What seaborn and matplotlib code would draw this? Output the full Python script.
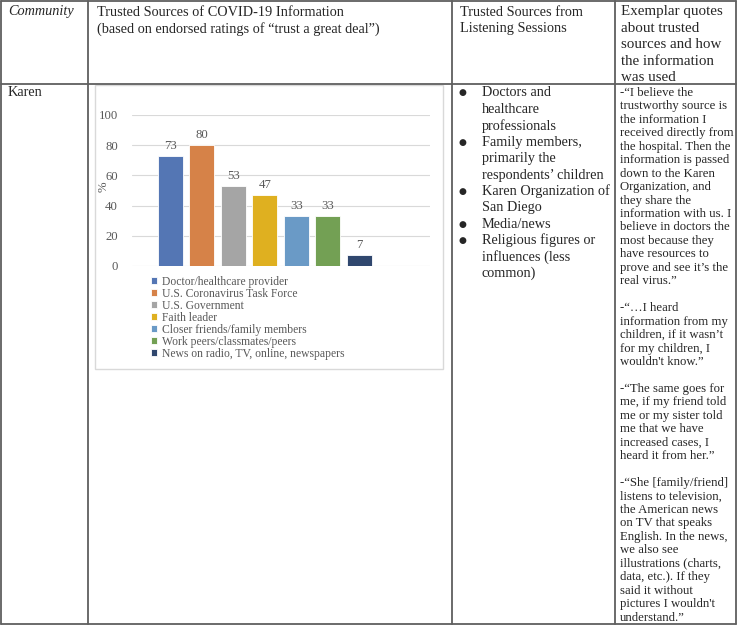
import matplotlib
matplotlib.use("Agg")
import matplotlib.pyplot as plt
import seaborn as sns
import pandas as pd

# ============ DATA ============
sources = ["Doctor/healthcare provider", "U.S. Coronavirus Task Force",
           "U.S. Government", "Faith leader", "Closer friends/family members",
           "Work peers/classmates/peers", "News on radio, TV, online, newspapers"]
percent = [73, 80, 53, 47, 33, 33, 7]
bar_colors = ["#4472C4", "#ED7D31", "#A5A5A5", "#FFC000", "#5B9BD5", "#70AD47", "#264478"]
y_ticks = [0, 20, 40, 60, 80, 100]

headers = {
    "col1": ["Community"],
    "col2": ["Trusted Sources of COVID-19 Information",
             "(based on endorsed ratings of \u201ctrust a great deal\u201d)"],
    "col3": ["Trusted Sources from", "Listening Sessions"],
    "col4": ["Exemplar quotes", "about trusted", "sources and how",
             "the information", "was used"],
}
community = "Karen"
bullets = [
    ["Doctors and", "healthcare", "professionals"],
    ["Family members,", "primarily the", "respondents\u2019 children"],
    ["Karen Organization of", "San Diego"],
    ["Media/news"],
    ["Religious figures or", "influences (less", "common)"],
]
quotes = [
    ["-\u201cI believe the", "trustworthy source is", "the information I",
     "received directly from", "the hospital. Then the", "information is passed",
     "down to the Karen", "Organization, and", "they share the",
     "information with us. I", "believe in doctors the", "most because they",
     "have resources to", "prove and see it\u2019s the", "real virus.\u201d"],
    ["-\u201c\u2026I heard", "information from my", "children, if it wasn\u2019t",
     "for my children, I", "wouldn't know.\u201d"],
    ["-\u201cThe same goes for", "me, if my friend told", "me or my sister told",
     "me that we have", "increased cases, I", "heard it from her.\u201d"],
    ["-\u201cShe [family/friend]", "listens to television,", "the American news",
     "on TV that speaks", "English. In the news,", "we also see",
     "illustrations (charts,", "data, etc.). If they", "said it without",
     "pictures I wouldn't", "understand.\u201d"],
]
# ==============================

sns.set_style("white")
plt.rcParams["font.family"] = ["Liberation Serif", "DejaVu Serif"]

W, H = 738, 625
fig = plt.figure(figsize=(W / 100, H / 100), dpi=100)

# --- table layer (pixel coordinates) ---
tab = fig.add_axes([0, 0, 1, 1])
tab.set_xlim(0, W)
tab.set_ylim(H, 0)
tab.axis("off")

line_c = "#5f5f5f"
for x in [1, 88, 452, 615, 736]:
    tab.plot([x, x], [1, 624], color=line_c, lw=1.3)
for y in [1, 84, 624]:
    tab.plot([1, 736], [y, y], color=line_c, lw=1.3)

big = 10.3
small = 9.2
tab.text(8, 12, headers["col1"][0], fontsize=big, style="italic", va="center")
for i, t in enumerate(headers["col2"]):
    tab.text(97, 12 + i * 16.6, t, fontsize=big, va="center")
for i, t in enumerate(headers["col3"]):
    tab.text(460, 12 + i * 16.6, t, fontsize=big, va="center")
for i, t in enumerate(headers["col4"]):
    tab.text(621, 12 + i * 16.4, t, fontsize=10.8, va="center")
tab.text(8, 93, community, fontsize=big, va="center")

# bullets
row = 0
for item in bullets:
    for j, t in enumerate(item):
        y = 93 + row * 16.4
        if j == 0:
            tab.text(462, y, "\u25CF", fontsize=6.5, va="center", ha="center",
                     family="DejaVu Sans")
        tab.text(482, y, t, fontsize=big, va="center")
        row += 1

# quotes
row = 0
for p in quotes:
    for t in p:
        tab.text(620, 93 + row * 13.45, t, fontsize=small, va="center")
        row += 1
    row += 1

# chart frame
tab.add_patch(plt.Rectangle((95, 85), 348, 284, fill=False, ec="#d9d9d9", lw=1))

# --- bar chart ---
ax = fig.add_axes([132 / W, 1 - 266 / H, 298 / W, 151 / H])
ax.patch.set_alpha(0)
df = pd.DataFrame({"source": sources, "pct": percent})
sns.barplot(data=df, x="source", y="pct", hue="source", palette=bar_colors,
            width=0.79, legend=False, edgecolor="white", linewidth=0.6, ax=ax)
ax.set_xlim(-1.22, 8.24)
ax.set_ylim(0, 100)
ax.set_yticks(y_ticks)
ax.set_xticks([])
ax.set_xlabel("")
ax.set_ylabel("")
ax.grid(axis="y", color="#d9d9d9", lw=0.8)
ax.set_axisbelow(True)
for s in ax.spines.values():
    s.set_visible(False)
ax.tick_params(axis="y", length=0, pad=10, labelsize=9.2, labelcolor="#595959")
for c in ax.containers:
    ax.bar_label(c, padding=3, fontsize=9.2, color="#595959")
tab.text(104, 187, "%", rotation=90, fontsize=9.2, color="#595959",
         va="center", ha="center")

handles = [c.patches[0] for c in ax.containers]
fig.legend(handles, sources, loc="upper left",
           bbox_to_anchor=(151 / W, 1 - 276 / H), frameon=False,
           fontsize=8.4, labelcolor="#595959", handlelength=0.55,
           handleheight=0.55, handletextpad=0.35, labelspacing=0.0,
           borderpad=0, borderaxespad=0)

plt.savefig("out.png", dpi=100)
